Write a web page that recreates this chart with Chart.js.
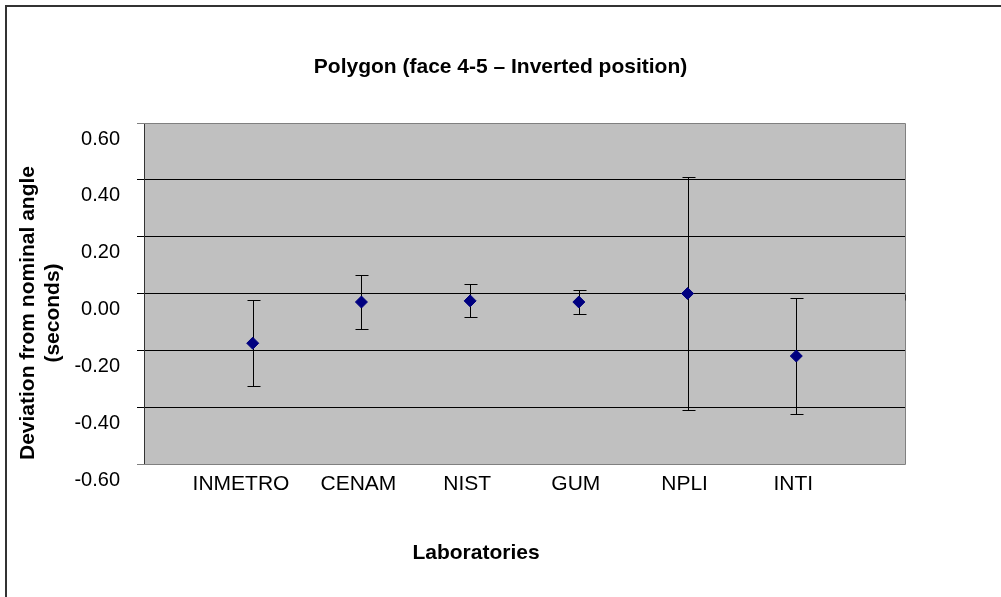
<!DOCTYPE html>
<html><head><meta charset="utf-8">
<script src="https://cdn.jsdelivr.net/npm/chart.js@4"></script>
<style>html,body{margin:0;padding:0;background:#fff}</style>
</head><body>
<canvas id="c" width="1001" height="597"></canvas>
<script>
const categories = ['INMETRO', 'CENAM', 'NIST', 'GUM', 'NPLI', 'INTI'];
const deviations = [-0.175, -0.030, -0.026, -0.030, 0.000, -0.220];
const uncertainties = [0.152, 0.094, 0.058, 0.042, 0.410, 0.203];
const yMin = -0.6, yMax = 0.6, yStep = 0.2;
const chartTitle = 'Polygon (face 4-5 \u2013 Inverted position)';
const yTitleLines = ['Deviation from nominal angle', '(seconds)'];
const xTitle = 'Laboratories';

const FONT = '"Liberation Sans", Arial, sans-serif';
Chart.defaults.font.family = FONT;
Chart.defaults.color = '#000';

const decorPlugin = {
  id: 'decor',
  beforeDraw(chart) {
    const { ctx, chartArea: a } = chart;
    ctx.save();
    ctx.fillStyle = '#fff';
    ctx.fillRect(0, 0, chart.width, chart.height);
    ctx.fillStyle = '#C0C0C0';
    ctx.fillRect(a.left, a.top, a.right - a.left, a.bottom - a.top);
    ctx.strokeStyle = '#333';
    ctx.lineWidth = 2;
    ctx.beginPath();
    ctx.moveTo(6, chart.height);
    ctx.lineTo(6, 6);
    ctx.lineTo(chart.width, 6);
    ctx.stroke();
    ctx.restore();
  },
  beforeDatasetsDraw(chart) {
    const { ctx, chartArea: a, scales: { x, y } } = chart;
    ctx.save();
    ctx.strokeStyle = '#808080';
    ctx.lineWidth = 1;
    ctx.beginPath();
    ctx.moveTo(a.left, Math.round(a.top) + 0.5);
    ctx.lineTo(Math.round(a.right) + 0.5, Math.round(a.top) + 0.5);
    ctx.lineTo(Math.round(a.right) + 0.5, Math.round(a.bottom) + 0.5);
    ctx.lineTo(a.left, Math.round(a.bottom) + 0.5);
    ctx.stroke();
    // small axis stub at zero on the right edge
    const z = Math.round(y.getPixelForValue(0)) + 0.5;
    ctx.strokeStyle = '#333';
    ctx.beginPath();
    ctx.moveTo(Math.round(a.right) + 0.5, z);
    ctx.lineTo(Math.round(a.right) + 0.5, z + 6);
    ctx.stroke();
    // error bars
    ctx.strokeStyle = '#000';
    deviations.forEach((d, i) => {
      const px = Math.round(x.getPixelForValue(i + 1)) + 0.5;
      const top = Math.round(y.getPixelForValue(d + uncertainties[i])) + 0.5;
      const bot = Math.round(y.getPixelForValue(d - uncertainties[i])) + 0.5;
      ctx.beginPath();
      ctx.moveTo(px, top); ctx.lineTo(px, bot);
      ctx.moveTo(px - 6, top); ctx.lineTo(px + 7, top);
      ctx.moveTo(px - 6, bot); ctx.lineTo(px + 7, bot);
      ctx.stroke();
    });
    ctx.restore();
  },
  afterDraw(chart) {
    const { ctx } = chart;
    ctx.save();
    ctx.fillStyle = '#000';
    ctx.font = 'bold 21px ' + FONT;
    ctx.textAlign = 'center';
    ctx.textBaseline = 'middle';
    ctx.save();
    ctx.translate(28, 313);
    ctx.rotate(-Math.PI / 2);
    ctx.fillText(yTitleLines[0], 0, 0);
    ctx.restore();
    ctx.save();
    ctx.translate(53, 313);
    ctx.rotate(-Math.PI / 2);
    ctx.fillText(yTitleLines[1], 0, 0);
    ctx.restore();
    ctx.fillText(xTitle, 476, 553);
    ctx.restore();
  }
};

new Chart(document.getElementById('c'), {
  type: 'scatter',
  data: {
    datasets: [{
      data: categories.map((c, i) => ({ x: i + 1, y: deviations[i] })),
      pointStyle: 'rectRot',
      pointRadius: 6,
      pointBackgroundColor: '#000080',
      pointBorderColor: '#000080',
      pointBorderWidth: 1,
      showLine: false
    }]
  },
  options: {
    responsive: false,
    devicePixelRatio: 1,
    animation: false,
    layout: { padding: 0 },
    plugins: {
      legend: { display: false },
      tooltip: { enabled: false },
      title: {
        display: true,
        text: chartTitle,
        color: '#000',
        font: { size: 21, weight: 'bold' },
        padding: { top: 55, bottom: 42.8 }
      }
    },
    scales: {
      x: {
        type: 'linear',
        min: 0, max: categories.length + 1,
        grid: { display: false, drawTicks: false },
        border: { display: false },
        ticks: {
          stepSize: 1, autoSkip: false, maxRotation: 0, minRotation: 0,
          padding: 8, labelOffset: -3,
          font: { size: 21 }, color: '#000',
          callback: v => {
            const s = categories[v - 1] || '';
            return v === 1 ? s + '   ' : s;
          }
        },
        afterFit: s => { s.height = 133; }
      },
      y: {
        min: yMin, max: yMax,
        grid: {
          color: c => (c.tick && Math.abs(Math.abs(c.tick.value) - 0.6) < 1e-6) ? '#808080' : '#000',
          lineWidth: 1,
          tickLength: 7,
          drawTicks: true
        },
        border: { display: true, color: '#333', width: 1 },
        ticks: {
          stepSize: yStep, padding: 17, labelOffset: 16,
          font: { size: 20 }, color: '#000',
          callback: v => Number(v).toFixed(2)
        },
        afterFit: s => { s.width = 144; }
      },
      yRight: {
        position: 'right',
        min: 0, max: 1,
        grid: { display: false, drawTicks: false },
        border: { display: false },
        ticks: { display: false },
        afterFit: s => { s.width = 96; }
      }
    }
  },
  plugins: [decorPlugin]
});
</script>
</body></html>
